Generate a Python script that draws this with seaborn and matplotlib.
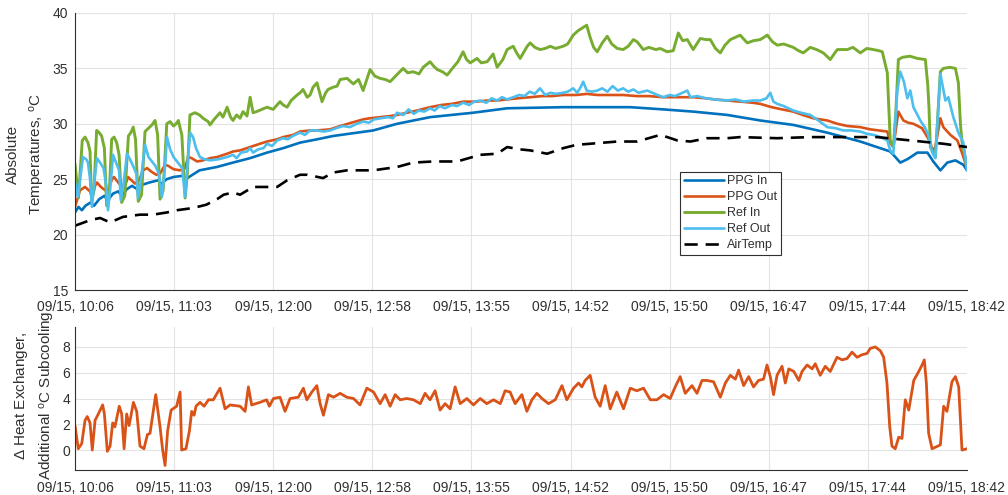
import numpy as np
import pandas as pd
import matplotlib
matplotlib.use("Agg")
import matplotlib.pyplot as plt
import seaborn as sns

# ---------------- data (time in minutes after 09/15 10:06) ----------------
tick_labels = ["09/15, 10:06", "09/15, 11:03", "09/15, 12:00", "09/15, 12:58",
               "09/15, 13:55", "09/15, 14:52", "09/15, 15:50", "09/15, 16:47",
               "09/15, 17:44", "09/15, 18:42"]
span_min = 516

ppg_in_t = [0, 2, 4, 6, 9, 11, 14, 17, 19, 22, 25, 27, 30, 33, 36, 39, 43, 48, 50, 53, 57, 62, 64, 66,
            69, 72, 82, 91.4, 101.3, 111.1, 120.4, 130.2, 140, 149.3, 172.5, 186.3, 205.4, 230.3, 250,
            282.4, 321.2, 340.3, 357.6, 377.3, 396.4, 415.5, 435.2, 454.3, 471.6, 473.4, 477.4, 481.5,
            487.3, 493.1, 496.5, 500.6, 504.6, 509.3, 513.9, 516]
ppg_in_v = [22.0, 22.5, 22.2, 22.6, 22.9, 22.6, 23.2, 23.5, 23.1, 23.7, 23.9, 23.5, 24.1, 24.4, 24.1,
            24.5, 24.7, 24.9, 24.6, 25.0, 25.2, 25.3, 25.0, 25.2, 25.5, 25.8, 26.1, 26.5, 26.9, 27.4,
            27.8, 28.3, 28.6, 28.9, 29.4, 30.0, 30.6, 31.0, 31.4, 31.5, 31.5, 31.3, 31.1, 30.8, 30.3,
            29.9, 29.2, 28.4, 27.5, 27.2, 26.5, 26.8, 27.4, 27.4, 26.6, 25.8, 26.5, 26.7, 26.3, 25.8]

ppg_out_t = [0, 2.9, 5.8, 8.7, 9.8, 11.6, 12.7, 15, 17.4, 19.1, 21.4, 22.5, 25, 27.2, 28.9, 30.7, 32,
             34.7, 37, 39.4, 41.7, 44, 47, 49.2, 52.1, 54, 57, 60.8, 63.7, 65.4, 67.5, 70.6, 74.1,
             78.1, 82.2, 88, 91.4, 95.5, 101.3, 107, 111.1, 116.9, 120.4, 126.2, 130.2, 136, 140,
             147.6, 153.4, 160, 166.7, 170.7, 176.5, 182.3, 186.3, 192, 198, 205.4, 212, 218, 224.5,
             232, 238.4, 244.2, 250, 256, 263.3, 270, 276, 282.4, 290, 296, 302.1, 310, 317.1, 325,
             332, 340.3, 348, 357.6, 365, 370, 377.3, 385, 392, 396.4, 403, 409, 415.5, 421, 427,
             435.2, 441, 446.8, 454.3, 460, 465, 469.9, 471.6, 473.4, 476.3, 479.2, 482, 485, 487.5,
             490, 493.1, 494.8, 496, 497.7, 500.6, 502.3, 506.4, 510.4, 513.3, 516]
ppg_out_v = [22.5, 24.0, 24.3, 23.9, 23.4, 24.4, 24.7, 24.3, 24.0, 24.0, 25.0, 25.2, 24.7, 24.3, 24.4,
             25.2, 25.0, 24.6, 24.9, 25.8, 26.0, 25.7, 25.4, 25.5, 26.3, 26.2, 25.9, 25.8, 26.0, 27.0,
             26.9, 26.6, 26.7, 26.9, 27.0, 27.3, 27.5, 27.6, 27.9, 28.2, 28.4, 28.6, 28.8, 29.0, 29.3,
             29.4, 29.4, 29.5, 29.8, 30.1, 30.4, 30.5, 30.6, 30.7, 30.8, 31.0, 31.2, 31.5, 31.7, 31.8,
             32.0, 32.0, 32.1, 32.1, 32.2, 32.3, 32.4, 32.5, 32.5, 32.6, 32.6, 32.7, 32.6, 32.6, 32.6,
             32.5, 32.5, 32.4, 32.4, 32.4, 32.3, 32.2, 32.1, 32.0, 31.9, 31.8, 31.5, 31.3, 31.1, 30.8,
             30.5, 30.3, 30.0, 29.8, 29.7, 29.5, 29.4, 29.3, 28.3, 27.9, 31.1, 30.3, 30.1, 30.0, 29.8,
             29.6, 28.8, 28.3, 27.6, 27.9, 30.5, 29.7, 29.0, 28.5, 27.3, 26.0]

ref_in_t = [0, 2, 4.2, 5.8, 7.5, 8.7, 9.6, 11, 12.5, 14, 15.4, 17, 18.3, 19.8, 21.2, 22.6, 24.1, 25.5,
            27, 28.8, 30.9, 32.3, 33.7, 35, 36.6, 38.5, 40.5, 42.5, 44.5, 46.3, 47.8, 49.2, 51, 53.1,
            55, 57, 58.5, 59.8, 61.8, 63.7, 65, 66.5, 69.4, 72, 74.1, 77, 78.1, 80.5, 83.9, 85.6, 88,
            90, 91.4, 93.5, 95.5, 97.2, 99.5, 101.3, 103, 105, 108, 111.1, 114.6, 118.6, 120.4, 122.7,
            125, 128.5, 130.2, 131.9, 134.3, 136, 137.7, 140, 142.9, 145, 146.4, 149.3, 151.6, 153.4,
            157.4, 161, 164, 166.7, 170.7, 173.5, 176.5, 179.5, 182.3, 186, 189.8, 192.5, 195.6, 199,
            201.4, 205.4, 207.5, 209.5, 212.5, 215.3, 218.8, 221.5, 224.5, 226.5, 228.6, 232.6, 235,
            238.4, 241.9, 244.2, 247.5, 250, 253.5, 255.5, 257.5, 261.6, 263.3, 266, 269.1, 272, 274.9,
            278, 282.4, 285, 288.2, 291, 294, 296, 298, 300, 302.1, 305, 307.9, 310.5, 313.7, 317.1,
            320, 323, 325.2, 328.7, 332, 336, 338.5, 342.6, 346.1, 349, 351.5, 354.2, 357.6, 361.7,
            365, 367.5, 370.5, 373.3, 376, 379.1, 382, 384.8, 388.9, 392.5, 396.4, 400.5, 403.5, 406.2,
            410, 415.5, 418.5, 421.3, 425.3, 429, 432.9, 436.9, 440, 441, 446.8, 450, 454.3, 458, 461.8,
            465, 467, 469.9, 471.6, 473.4, 474.8, 476.3, 478.6, 483, 487.3, 491.9, 493.3, 494, 494.8,
            497.7, 499, 500.6, 502.3, 506, 509.3, 511, 512.2, 513, 516]
ref_in_v = [26.4, 23.3, 28.5, 28.8, 28.3, 27.5, 23.0, 24.0, 29.4, 29.2, 28.9, 27.8, 22.6, 23.5, 28.6,
            28.8, 28.3, 27.2, 22.9, 23.5, 28.9, 29.2, 29.7, 28.6, 23.0, 23.6, 29.3, 29.6, 29.9, 30.3,
            29.0, 23.2, 24.0, 30.0, 30.2, 29.8, 30.0, 30.3, 29.0, 23.3, 25.5, 30.8, 31.0, 30.8, 30.5,
            30.2, 29.9, 30.4, 31.0, 30.6, 31.5, 30.6, 30.3, 30.8, 30.5, 31.1, 30.7, 32.4, 31.0, 31.1,
            31.3, 31.5, 31.3, 32.0, 31.7, 31.5, 32.1, 32.6, 32.8, 33.1, 32.4, 32.6, 33.3, 33.7, 32.0,
            32.8, 33.1, 33.3, 33.4, 34.0, 34.1, 33.6, 34.0, 33.0, 34.9, 34.3, 34.1, 34.0, 33.8, 34.4,
            35.0, 34.6, 34.7, 34.5, 35.1, 35.6, 35.2, 34.9, 34.7, 34.4, 35.1, 35.6, 36.5, 35.8, 35.5,
            35.9, 35.5, 35.6, 36.3, 35.1, 35.8, 36.7, 37.0, 36.4, 35.9, 37.0, 37.3, 36.9, 36.7, 36.8,
            37.0, 36.8, 37.0, 37.2, 38.0, 38.4, 38.7, 38.9, 37.8, 36.9, 36.5, 37.3, 37.9, 37.2, 36.8,
            36.7, 37.0, 37.6, 37.4, 36.7, 36.9, 36.7, 36.8, 36.5, 36.6, 38.2, 37.5, 37.6, 36.7, 37.7,
            37.6, 37.6, 36.8, 36.4, 37.1, 37.6, 37.8, 38.0, 37.3, 37.5, 37.6, 38.0, 37.4, 37.1, 37.2,
            36.9, 36.6, 36.4, 36.9, 36.7, 36.4, 35.8, 36.5, 36.7, 36.7, 36.9, 36.4, 36.8, 36.7, 36.6,
            36.5, 34.6, 28.5, 27.9, 31.0, 35.8, 36.0, 36.1, 35.9, 35.8, 33.5, 31.5, 27.9, 27.0, 30.5,
            34.7, 35.0, 35.1, 35.0, 33.7, 30.0, 28.5, 26.1]

ref_out_t = [0, 1.7, 4.6, 6.5, 7.5, 8.7, 9.8, 11, 12.7, 14.5, 16.5, 18, 19.1, 20.3, 22, 23.5, 25.5,
             26.5, 28, 30.1, 31.8, 33.6, 35.5, 36.5, 38, 40.5, 42.5, 44.5, 46.5, 48.5, 50.3, 52, 53.2,
             55, 57, 59.5, 62, 63.7, 65.4, 66.6, 68.3, 70, 72.3, 75, 78.1, 83, 88, 91.4, 93.5, 96,
             99.5, 101.3, 103, 106, 109, 111.1, 114, 117, 120.4, 123, 126, 130.2, 133, 136, 140, 144,
             147.6, 151, 155, 159, 163, 166.7, 170, 173, 177, 181, 184, 186.3, 190, 193, 196, 199, 202,
             205.4, 208, 211, 214, 218, 221, 224.5, 228, 231, 234.4, 238, 241, 244.2, 247, 250, 253.5,
             257, 260, 263, 266, 269, 272, 275, 278, 282.4, 285, 288.2, 290.5, 292.5, 294, 296, 299,
             302.1, 305, 308, 311, 314, 317.1, 320, 323, 326, 331, 334, 337, 340.3, 344, 347, 350,
             354.2, 356, 360, 365, 370, 377.3, 382, 387, 392, 396.4, 400, 402.2, 404, 406.2, 410,
             415.5, 420, 425.3, 430, 435.2, 440, 444.4, 449, 454.3, 458, 461.8, 466, 469.9, 471.6,
             473.4, 475.7, 477.4, 479.5, 481.5, 483.2, 485, 489, 491.9, 493.6, 495.9, 497.7, 500.6,
             503.5, 505.2, 508.1, 511, 513.9, 516]
ref_out_v = [24.7, 23.4, 27.0, 26.8, 26.5, 25.0, 22.5, 24.5, 26.9, 26.5, 26.0, 24.5, 22.2, 24.0, 27.2,
             26.6, 25.8, 23.1, 24.5, 27.3, 26.8, 26.2, 25.5, 23.3, 24.8, 28.1, 27.0, 26.6, 26.2, 25.5,
             23.4, 26.0, 28.8, 27.7, 27.0, 26.5, 26.0, 23.4, 27.0, 29.2, 28.8, 27.8, 27.0, 26.8, 26.7,
             26.8, 27.0, 27.2, 26.9, 27.4, 27.5, 27.8, 27.4, 27.7, 27.8, 28.2, 28.0, 28.5, 28.7, 28.6,
             28.9, 29.2, 29.0, 29.4, 29.4, 29.3, 29.4, 29.6, 29.8, 29.7, 30.0, 30.2, 30.1, 30.4, 30.5,
             30.6, 30.5, 31.0, 30.8, 31.3, 30.9, 31.2, 31.1, 31.4, 31.2, 31.6, 31.4, 31.7, 31.6, 31.9,
             31.7, 32.0, 32.1, 31.9, 32.3, 32.1, 32.4, 32.2, 32.4, 32.6, 32.5, 32.9, 32.7, 33.2, 32.6,
             32.8, 32.7, 32.8, 32.9, 33.2, 32.8, 33.3, 33.8, 33.0, 32.9, 33.0, 33.2, 32.9, 33.4, 33.0,
             33.2, 32.9, 33.1, 32.8, 33.0, 32.8, 32.6, 32.4, 32.6, 32.5, 32.7, 33.0, 32.4, 32.5, 32.3,
             32.2, 32.1, 32.2, 32.0, 32.1, 32.1, 32.3, 32.8, 32.0, 31.8, 31.6, 31.2, 31.0, 30.8, 30.3,
             29.7, 29.6, 29.4, 29.4, 29.3, 29.1, 29.0, 28.8, 28.5, 27.6, 27.3, 33.0, 34.7, 33.8, 32.3,
             33.0, 31.5, 30.3, 29.6, 29.0, 27.4, 26.9, 34.5, 32.1, 32.4, 30.6, 29.2, 28.3, 25.8]

air_t = [0, 8.7, 14.5, 20.3, 27.8, 37.6, 45.1, 53.2, 59, 68.3, 76, 82.2, 86, 91.4, 95.5, 103, 110,
         116.9, 122.7, 130.2, 134.3, 143.5, 149.3, 157.4, 172.5, 186.3, 195.6, 207.2, 221.1, 234.4,
         244.2, 250, 257, 263.3, 273.1, 282.4, 290, 298, 313.7, 325.2, 338.5, 342.6, 348.4, 356,
         365.7, 377.3, 384.8, 406.2, 425.3, 444.4, 464.1, 483.2, 502.3, 516]
air_v = [20.8, 21.3, 21.5, 21.1, 21.6, 21.8, 21.8, 22.0, 22.2, 22.4, 22.7, 23.2, 23.6, 23.8, 23.6,
         24.3, 24.3, 24.3, 24.9, 25.4, 25.4, 25.1, 25.6, 25.8, 25.8, 26.1, 26.5, 26.6, 26.6, 27.2,
         27.3, 27.9, 27.7, 27.6, 27.3, 27.8, 28.1, 28.2, 28.4, 28.4, 29.0, 28.8, 28.5, 28.4, 28.7,
         28.7, 28.8, 28.7, 28.8, 28.8, 28.8, 28.5, 28.2, 27.9]

sub_t = [0, 1.9, 3.9, 5.8, 7.1, 8.7, 10, 11.6, 13.5, 16, 17, 18.7, 20.3, 21.8, 23.1, 25.6, 27, 28.4,
         29.9, 31.3, 33.8, 35.7, 37.6, 39.9, 41.9, 43.4, 46.7, 49.2, 50.7, 52.1, 53.6, 55.6, 58.8,
         60.8, 61.7, 64.2, 66.2, 67.5, 68.9, 70, 72.3, 74.7, 77.2, 80, 83.9, 86.8, 89.7, 95.5, 98.4,
         100.3, 102.2, 107, 110.9, 112.4, 114.8, 118.6, 121.5, 124.4, 129.2, 132.1, 134.1, 137,
         139.9, 141.8, 143.7, 146.6, 149.5, 153.4, 157.2, 161.1, 164.9, 168.8, 172.7, 176.5, 179.4,
         182.3, 185.2, 188.1, 191.9, 195.8, 199.7, 202.5, 205.4, 208.3, 211.2, 214.1, 217, 219.9,
         222.8, 226.7, 230.5, 234.4, 238.2, 242.1, 246, 248.8, 251.7, 254.6, 258.5, 261.4, 264.3,
         267.2, 270.1, 273.9, 277.8, 281.7, 284.5, 288.4, 291.3, 293.2, 295.1, 298, 300.9, 303.8,
         306.7, 309.6, 313.4, 317.3, 321.2, 325, 328.9, 332.8, 336.6, 340.5, 344.3, 347.2, 350.1,
         353, 356.9, 359.8, 362.7, 365.6, 369.4, 373.3, 376.2, 379.1, 382, 383.9, 386.8, 389.7,
         392.5, 395.4, 398.3, 400.3, 402.2, 404.1, 406.1, 409, 410.9, 412.9, 415.8, 418.7, 420.6,
         423.5, 426.4, 428.2, 431.1, 434, 436.9, 440.8, 443.7, 446.6, 449.5, 452.4, 455.3, 458.2,
         460.1, 463, 465.9, 467.8, 469.7, 471.3, 472.6, 474.5, 476.5, 478.4, 480.3, 482.3, 485.2,
         488.1, 490, 491.3, 492.5, 493.8, 495.8, 500.6, 502.5, 504.4, 507.3, 509.3, 511.2, 513.1, 516]
sub_v = [1.9, 0.1, 0.5, 2.3, 2.6, 2.1, 0.0, 2.3, 2.8, 3.5, 2.8, -0.1, 0.3, 2.1, 1.8, 3.4, 2.8, 0.1,
         2.8, 1.9, 3.7, 3.0, 0.3, 0.1, 1.2, 1.3, 4.3, 1.8, 0.0, -1.2, 1.5, 3.1, 3.4, 4.5, 0.0, 0.1,
         1.5, 3.0, 2.7, 3.4, 3.7, 3.4, 3.9, 3.9, 4.8, 3.2, 3.5, 3.4, 3.0, 4.9, 3.5, 3.7, 3.9, 3.4,
         4.0, 4.1, 3.0, 4.0, 4.1, 4.8, 3.9, 4.5, 5.0, 3.6, 2.7, 4.3, 4.1, 4.4, 4.1, 4.0, 3.5, 4.8,
         4.5, 3.6, 4.3, 3.4, 4.3, 3.9, 4.0, 3.9, 3.6, 4.4, 3.9, 4.6, 3.1, 3.6, 3.2, 4.9, 3.6, 4.0,
         3.5, 4.0, 3.6, 3.9, 3.6, 4.6, 4.5, 3.6, 4.3, 3.0, 3.9, 4.4, 4.0, 3.6, 3.9, 5.0, 3.9, 4.8,
         5.2, 4.9, 5.4, 5.8, 4.1, 3.4, 5.0, 3.2, 4.5, 3.2, 4.8, 4.6, 4.8, 3.9, 3.9, 4.3, 4.0, 4.9,
         5.7, 4.4, 5.0, 4.4, 5.4, 5.4, 5.3, 4.1, 5.2, 5.8, 5.5, 6.2, 5.0, 5.7, 4.9, 5.4, 5.5, 6.6,
         5.7, 4.3, 5.8, 6.5, 5.2, 6.3, 6.1, 5.4, 6.1, 6.6, 6.3, 6.7, 5.8, 6.5, 6.1, 7.2, 7.0, 7.1,
         7.6, 7.2, 7.4, 7.5, 7.9, 8.0, 7.7, 7.2, 5.2, 1.8, 0.3, 0.1, 1.0, 0.9, 3.9, 3.1, 5.4, 6.1,
         6.6, 7.0, 5.2, 1.3, 0.1, 0.4, 3.4, 3.0, 5.3, 5.7, 4.9, 0.0, 0.1]

# ---------------- style ----------------
sns.set_style("white")
plt.rcParams["font.family"] = ["Liberation Sans", "DejaVu Sans"]
plt.rcParams["mathtext.fontset"] = "custom"
plt.rcParams["mathtext.rm"] = "Liberation Sans"
plt.rcParams["mathtext.it"] = "Liberation Sans:italic"

TXT = "#303030"
GRID = "#e3e3e3"
c_ppg_in = "#0072BD"
c_ppg_out = "#D95319"
c_ref_in = "#77AC30"
c_ref_out = "#4DBEEE"

fig = plt.figure(figsize=(10.08, 4.95), dpi=100)
ax1 = fig.add_axes([75 / 1008, 1 - 290 / 495, 892 / 1008, 277 / 495])
ax2 = fig.add_axes([75 / 1008, 1 - 470 / 495, 892 / 1008, 143 / 495])

lw = 1.9
sns.lineplot(x=ppg_in_t, y=ppg_in_v, ax=ax1, color=c_ppg_in, lw=lw, label="PPG In", estimator=None)
sns.lineplot(x=ppg_out_t, y=ppg_out_v, ax=ax1, color=c_ppg_out, lw=lw, label="PPG Out", estimator=None)
sns.lineplot(x=ref_in_t, y=ref_in_v, ax=ax1, color=c_ref_in, lw=lw + 0.2, label="Ref In", estimator=None)
sns.lineplot(x=ref_out_t, y=ref_out_v, ax=ax1, color=c_ref_out, lw=lw, label="Ref Out", estimator=None)
sns.lineplot(x=air_t, y=air_v, ax=ax1, color="black", lw=lw, label="AirTemp", estimator=None,
             linestyle=(0, (5, 3)))

sns.lineplot(x=sub_t, y=sub_v, ax=ax2, color=c_ppg_out, lw=2.0, estimator=None, legend=False)

ticks = [i * span_min / 9 for i in range(10)]
for ax in (ax1, ax2):
    ax.set_xlim(0, span_min)
    ax.set_xticks(ticks)
    ax.set_xticklabels(tick_labels)
    ax.grid(True, color=GRID, lw=0.8)
    ax.set_axisbelow(True)
    for s in ("top", "right"):
        ax.spines[s].set_visible(False)
    for s in ("left", "bottom"):
        ax.spines[s].set_color(TXT)
        ax.spines[s].set_linewidth(0.8)
    ax.tick_params(direction="in", length=4, width=0.8, colors=TXT, labelsize=10, labelcolor=TXT)
    ax.set_xlabel("")

ax1.tick_params(axis="x", pad=7)
ax1.tick_params(axis="y", pad=5)
ax2.tick_params(axis="x", pad=8)

ax1.set_ylim(15, 40)
ax1.set_yticks([15, 20, 25, 30, 35, 40])
ax2.set_ylim(-1.55, 9.55)
ax2.set_yticks([0, 2, 4, 6, 8])

ax1.set_ylabel("Absolute\nTemperatures, $^{\\rm o}$C", fontsize=11, color=TXT, linespacing=1.6)
ax1.yaxis.set_label_coords(-0.031, 0.49)
ax2.set_ylabel("$\\Delta$ Heat Exchanger,\nAdditional $^{\\rm o}$C Subcooling", fontsize=11,
               color=TXT, linespacing=1.6)
ax2.yaxis.set_label_coords(-0.020, 0.52)

leg = ax1.legend(loc="lower left", bbox_to_anchor=(0.678, 0.126), fontsize=9, frameon=True,
                 fancybox=False, framealpha=1, edgecolor=TXT, borderpad=0.3,
                 handlelength=3.2, handletextpad=0.3, labelspacing=0.32, borderaxespad=0)
leg.get_frame().set_linewidth(0.8)
for t in leg.get_texts():
    t.set_color(TXT)

fig.savefig("out.png", dpi=100)
